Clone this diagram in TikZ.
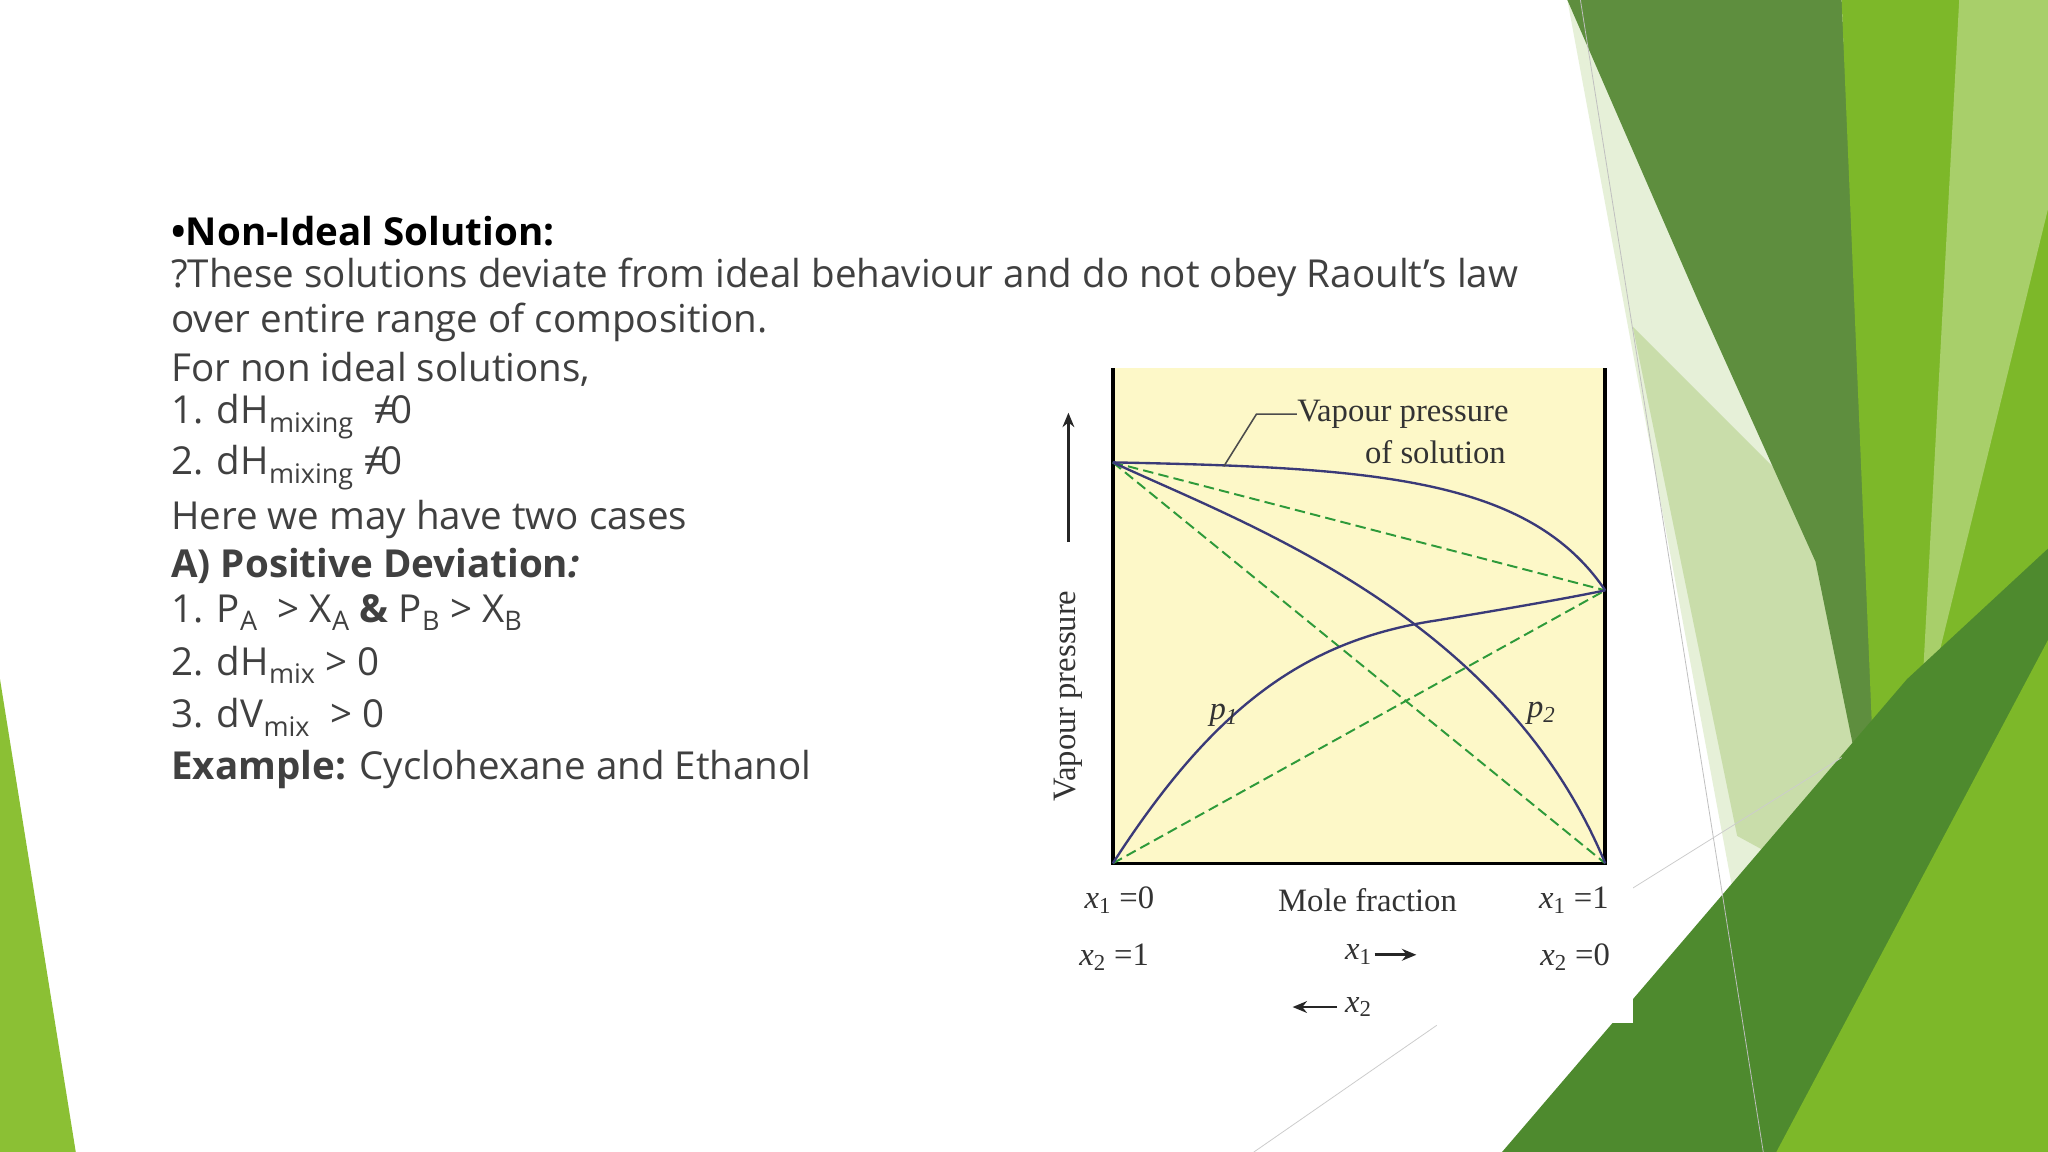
\documentclass[tikz,border=0pt]{standalone}
\usepackage{fontspec}
\setmainfont{Open Sans}
\newfontfamily\chartfont{Liberation Serif}
\usetikzlibrary{arrows.meta}
\definecolor{txt}{HTML}{404040}
\definecolor{plotbg}{HTML}{FDF8C8}
\definecolor{curve}{HTML}{3A3A78}
\definecolor{dgreen}{HTML}{2E9A3A}
\definecolor{gA}{HTML}{E6F0D8}
\definecolor{gB}{HTML}{C9DDAA}
\definecolor{gC}{HTML}{5E8E3E}
\definecolor{gD}{HTML}{7DB829}
\definecolor{gE}{HTML}{A8CF6A}
\definecolor{gF}{HTML}{4E8A2E}
\definecolor{gG}{HTML}{8BC034}
\tikzset{
  line/.style={anchor=west,text=txt,font=\fontsize{29.5}{32}\selectfont,inner sep=0pt},
  lbl/.style={font=\chartfont\fontsize{25}{27}\selectfont,text=black!80,inner sep=0pt},
  sol/.style={curve,line width=1.8pt},
  ideal/.style={dgreen,line width=1.5pt,dash pattern=on 8pt off 4pt},
  arr/.style={-{Stealth[length=11pt,width=9pt]},line width=2pt,black!85},
}
\begin{document}
\begin{tikzpicture}[x=1pt,y=-1pt]
\useasboundingbox (0,0) rectangle (1568,882);
\fill[white] (0,0) rectangle (1568,882);
% background shapes
\fill[gA] (1200,0) -- (1300,0) -- (1420,560) -- (1330,700) -- cycle;
\fill[gB] (1250,250) -- (1420,420) -- (1440,700) -- (1330,640) -- cycle;
\fill[gC] (1200,0) -- (1410,0) -- (1445,700) -- (1390,430) -- (1300,230) -- cycle;
\fill[gD] (1410,0) -- (1568,0) -- (1568,480) -- (1440,720) -- cycle;
\fill[gE] (1500,0) -- (1568,0) -- (1568,160) -- (1470,560) -- cycle;
\fill[gF] (1150,882) -- (1460,520) -- (1568,420) -- (1568,882) -- cycle;
\fill[gD] (1360,882) -- (1568,490) -- (1568,882) -- cycle;
\fill[gG] (0,520) -- (58,882) -- (0,882) -- cycle;
\draw[black!25,line width=0.6pt] (1210,0) -- (1350,882);
\draw[black!20,line width=0.6pt] (960,882) -- (1100,785);
\draw[black!20,line width=0.6pt] (1250,680) -- (1410,580);
% text
\node[line,text=black,font=\bfseries\fontsize{29.5}{32}\selectfont] (t1) at (131,177) {•Non-Ideal Solution:};
\node[line] (t2) at (131,212) {?These solutions deviate from ideal behaviour and do not obey Raoult’s law};
\node[line] (t3) at (131,247) {over entire range of composition.};
\node[line] (t4) at (131,283) {For non ideal solutions,};
\node[line] (t5) at (131,319) {1. dH\textsubscript{mixing}\ \ =\kern-0.5em{}/0};
\node[line] (t6) at (131,358) {2. dH\textsubscript{mixing} =\kern-0.5em{}/0};
\node[line] (t7) at (131,398) {Here we may have two cases};
\node[line] (t8) at (131,433) {\textbf{A) Positive Deviation\textit{:}}};
\node[line] (t9) at (131,469) {1. P\textsubscript{A}\ \ > X\textsubscript{A} \textbf{\&} P\textsubscript{B} > X\textsubscript{B}};
\node[line] (t10) at (131,509) {2. dH\textsubscript{mix} > 0};
\node[line] (t11) at (131,549) {3. dV\textsubscript{mix}\ \ > 0};
\node[line] (t12) at (131,589) {\textbf{Example:} Cyclohexane and Ethanol};
% chart
\fill[white] (800,280) rectangle (1250,783);
\fill[plotbg] (852,282) rectangle (1229,661);
\coordinate (TL) at (852,354);
\coordinate (RM) at (1229,452);
\coordinate (BL) at (852,661);
\coordinate (BR) at (1229,661);
\draw[black,line width=2.8pt] (852,282) -- (BL) -- (BR) -- (1229,282);
\draw[ideal] (TL) -- (RM);
\draw[ideal] (TL) -- (BR);
\draw[ideal] (BL) -- (RM);
\draw[sol] (TL) .. controls (1050,358) and (1170,365) .. (RM);
\draw[sol] (BL) .. controls (930,540) and (1000,490) .. (1100,475) .. controls (1160,465) and (1200,458) .. (RM);
\draw[sol] (TL) .. controls (950,400) and (1150,470) .. (BR);
\node[lbl,anchor=west] (vp) at (993,317) {Vapour pressure};
\node[lbl] (os) at (1099,346) {of solution};
\draw[black!70,line width=1.2pt] (vp.west) -- (962,317) -- (937,357);
\node[lbl,font=\chartfont\itshape\fontsize{25}{27}\selectfont] (p1) at (937,548) {p\textsubscript{1}};
\node[lbl,font=\chartfont\itshape\fontsize{25}{27}\selectfont] (p2) at (1180,546) {p\textsubscript{2}};
\node[lbl,rotate=90] (ya) at (818,533) {Vapour pressure};
\draw[arr] (818,415) -- (818,316);
\node[lbl] (a1) at (857,689) {\textit{x}\textsubscript{1} =0};
\node[lbl] (a2) at (1047,689) {Mole fraction};
\node[lbl] (a3) at (1205,689) {\textit{x}\textsubscript{1} =1};
\node[lbl] (b1) at (853,733) {\textit{x}\textsubscript{2} =1};
\node[lbl] (b2) at (1040,731) {\textit{x}\textsubscript{1}};
\draw[arr] ([xshift=2pt]b2.east) -- ++(32,0);
\node[lbl] (b3) at (1206,733) {\textit{x}\textsubscript{2} =0};
\node[lbl] (c2) at (1040,771) {\textit{x}\textsubscript{2}};
\draw[arr] ([xshift=-6pt]c2.west) -- ++(-34,0);
\end{tikzpicture}
\end{document}
